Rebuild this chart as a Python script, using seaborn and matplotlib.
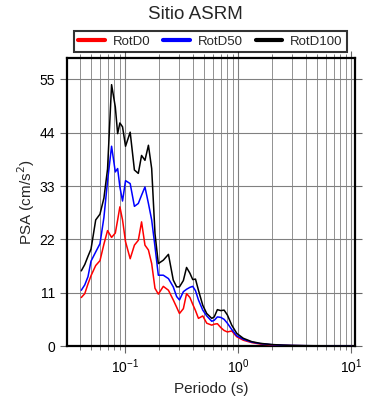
#!/usr/bin/env python3

import matplotlib
matplotlib.use("Agg")
import matplotlib.pyplot as plt
from matplotlib.ticker import LogLocator, NullFormatter
import numpy as np
import pandas as pd
import seaborn as sns

# periodos (s) y espectros PSA (cm/s^2)
periodo = [0.041, 0.044, 0.047, 0.050, 0.055, 0.060, 0.065, 0.070, 0.076, 0.082,
           0.086, 0.090, 0.095, 0.101, 0.111, 0.121, 0.131, 0.140, 0.150, 0.161,
           0.172, 0.184, 0.197, 0.218, 0.242, 0.267, 0.286, 0.303, 0.328, 0.350,
           0.375, 0.397, 0.420, 0.446, 0.487, 0.528, 0.585, 0.615, 0.656, 0.703,
           0.752, 0.804, 0.879, 0.974, 1.11, 1.32, 1.57, 2.0, 2.5, 3.0,
           4.0, 5.0, 7.0, 10.0]

rotd100 = [15.5, 16.8, 18.5, 20.0, 26.0, 27.2, 30.5, 36.5, 53.9, 49.3,
           43.8, 46.0, 45.2, 41.2, 44.1, 36.3, 35.6, 39.3, 38.3, 41.4,
           36.6, 23.2, 17.0, 17.7, 18.9, 13.6, 12.2, 12.2, 13.5, 16.2,
           15.0, 13.7, 13.8, 11.5, 8.4, 6.7, 5.7, 6.0, 7.5, 7.3,
           7.4, 6.4, 4.3, 2.6, 1.6, 0.9, 0.55, 0.3, 0.18, 0.12,
           0.07, 0.05, 0.03, 0.02]

rotd50 = [11.5, 12.6, 14.3, 17.5, 19.4, 21.1, 26.5, 34.0, 41.2, 35.9,
          36.6, 32.8, 29.9, 34.1, 33.5, 28.8, 29.4, 31.1, 32.8, 29.4,
          26.0, 20.5, 14.6, 14.6, 13.9, 12.2, 10.2, 9.5, 11.2, 11.7,
          12.1, 12.3, 11.4, 9.5, 7.4, 6.2, 5.1, 5.3, 6.0, 5.9,
          5.5, 4.7, 3.4, 2.1, 1.4, 0.8, 0.5, 0.27, 0.16, 0.1,
          0.06, 0.04, 0.025, 0.015]

rotd0 = [10.0, 10.8, 12.8, 14.5, 16.6, 17.6, 21.0, 23.8, 22.4, 23.3,
         26.0, 28.7, 26.0, 21.5, 18.0, 20.8, 21.8, 25.6, 20.8, 19.8,
         17.0, 11.9, 10.7, 12.3, 11.5, 9.5, 8.0, 6.7, 7.7, 10.8,
         10.0, 8.6, 7.3, 5.7, 6.2, 4.7, 4.3, 4.5, 4.6, 3.8,
         3.2, 2.9, 3.1, 1.9, 1.2, 0.7, 0.4, 0.22, 0.13, 0.08,
         0.05, 0.03, 0.02, 0.012]

series = ["RotD0", "RotD50", "RotD100"]
colores = ["#ff0000", "#0000ff", "#000000"]
y_ticks = [0, 11, 22, 33, 44, 55]


def main():
    sns.set_theme(style="ticks")
    plt.rcParams['font.family'] = ['Liberation Sans', 'DejaVu Sans']

    df = pd.DataFrame({
        'Periodo': periodo * 3,
        'PSA': rotd0 + rotd50 + rotd100,
        'Serie': [s for s in series for _ in periodo],
    })

    fig = plt.figure(figsize=(3.9, 4.0), dpi=100)
    ax = fig.add_axes([0.172, 0.135, 0.738, 0.72])

    sns.lineplot(data=df, x='Periodo', y='PSA', hue='Serie', hue_order=series,
                 palette=colores, linewidth=1.1, ax=ax, sort=True,
                 estimator=None, legend=True, zorder=3)

    ax.set_xscale('log')
    ax.set_xlim(0.0307, 10.8)
    ax.set_ylim(0, 59.4)
    ax.set_yticks(y_ticks)
    ax.xaxis.set_major_locator(LogLocator(base=10, numticks=10))
    ax.xaxis.set_minor_locator(LogLocator(base=10, subs=np.arange(2, 10), numticks=20))
    ax.xaxis.set_minor_formatter(NullFormatter())

    ax.grid(True, which='major', color='#808080', linewidth=0.8)
    ax.grid(True, which='minor', axis='x', color='#808080', linewidth=0.6)
    ax.set_axisbelow(True)

    for sp in ax.spines.values():
        sp.set_linewidth(1.6)
        sp.set_color('black')

    ax.tick_params(axis='both', which='major', direction='out', length=5,
                   width=0.8, color='#666666', labelsize=10, top=True, right=True,
                   labelcolor='black')
    ax.tick_params(axis='x', which='minor', direction='out', length=3,
                   width=0.6, color='#666666', top=True, bottom=True)

    ax.set_xlabel('Periodo (s)', fontsize=11)
    ax.set_ylabel('PSA (cm/s$^2$)', fontsize=11, labelpad=2)
    fig.suptitle('Sitio ASRM', fontsize=13.5, y=0.985)

    handles, labels = ax.get_legend_handles_labels()
    for h in handles:
        h.set_linewidth(3)
    leg = ax.legend(handles, labels, loc='lower center', bbox_to_anchor=(0.498, 1.02),
                    ncol=3, fontsize=9.5, frameon=True, fancybox=False,
                    borderpad=0.35, handlelength=2.0, columnspacing=1.0,
                    handletextpad=0.6, borderaxespad=0)
    leg.get_frame().set_edgecolor('black')
    leg.get_frame().set_linewidth(1.5)

    fig.savefig('out.png', dpi=100)


if __name__ == "__main__":
    main()
